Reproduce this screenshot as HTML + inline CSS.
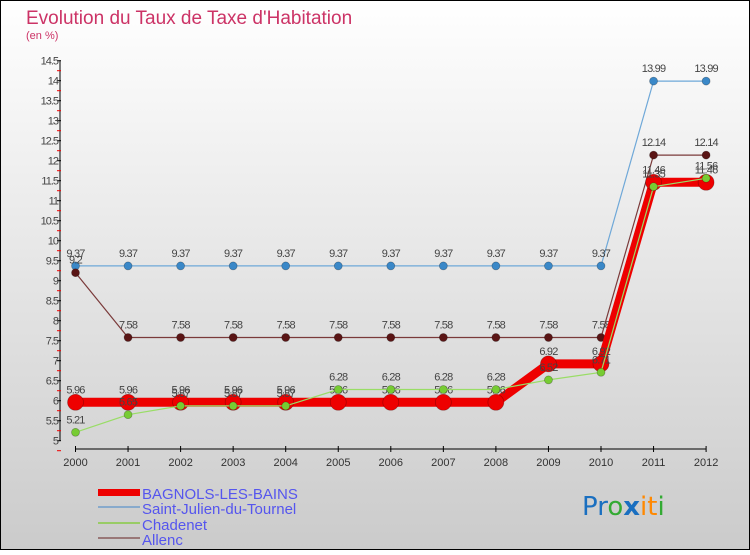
<!DOCTYPE html>
<html><head><meta charset="utf-8"><style>
html,body{margin:0;padding:0}
body{width:750px;height:550px;overflow:hidden;font-family:"Liberation Sans",sans-serif}
</style></head><body>
<svg id="c" width="750" height="550" xmlns="http://www.w3.org/2000/svg">
<defs><linearGradient id="bg" x1="0" y1="0" x2="0" y2="1"><stop offset="0" stop-color="#ffffff"/><stop offset="1" stop-color="#cbcbcb"/></linearGradient></defs>
<rect x="0.5" y="0.5" width="749" height="549" fill="url(#bg)" stroke="#000" stroke-width="1"/>
<text x="26" y="24" font-size="19" fill="#cc3366">Evolution du Taux de Taxe d'Habitation</text>
<text x="26" y="39" font-size="11" fill="#cc3366">(en %)</text>
<g id="axes"></g><g id="series"></g>
<g>
<rect x="98" y="489" width="42" height="7" fill="#ee0000"/>
<line x1="98" y1="507" x2="140" y2="507" stroke="#88aacc" stroke-width="2"/>
<line x1="98" y1="523" x2="140" y2="523" stroke="#99cc66" stroke-width="2"/>
<line x1="98" y1="538" x2="140" y2="538" stroke="#997777" stroke-width="2"/>
<g font-size="15" fill="#5555ee">
<text x="142" y="499">BAGNOLS-LES-BAINS</text>
<text x="142" y="514">Saint-Julien-du-Tournel</text>
<text x="142" y="530">Chadenet</text>
<text x="142" y="545">Allenc</text>
</g></g>
<text x="582" y="515" font-size="26" font-family="DejaVu Sans,sans-serif"><tspan fill="#1a6fc0">Pr</tspan><tspan fill="#33aa33">o</tspan><tspan fill="#1a6fc0" font-weight="bold">x</tspan><tspan fill="#ff8800">it</tspan><tspan fill="#33aa33">i</tspan></text>
</svg>
<script>
const years=[2000,2001,2002,2003,2004,2005,2006,2007,2008,2009,2010,2011,2012];
const bagnols=[5.96,5.96,5.96,5.96,5.96,5.96,5.96,5.96,5.96,6.92,6.92,11.46,11.46];
const stjulien=[9.37,9.37,9.37,9.37,9.37,9.37,9.37,9.37,9.37,9.37,9.37,13.99,13.99];
const chadenet=[5.21,5.65,5.87,5.87,5.87,6.28,6.28,6.28,6.28,6.52,6.71,11.35,11.56];
const allenc=[9.2,7.58,7.58,7.58,7.58,7.58,7.58,7.58,7.58,7.58,7.58,12.14,12.14];
const yTicks=[5,5.5,6,6.5,7,7.5,8,8.5,9,9.5,10,10.5,11,11.5,12,12.5,13,13.5,14,14.5];
const NS="http://www.w3.org/2000/svg";
const x=i=>75.5+i*52.55;
const y=v=>440.7-(v-5)*40;
function mk(t,a,p){const e=document.createElementNS(NS,t);for(const k in a)e.setAttribute(k,a[k]);p.appendChild(e);return e;}
const ax=document.getElementById('axes');
const yl=mk('line',{x1:60,y1:y(14.5),x2:60,y2:y(5),stroke:'#000'},ax);


yTicks.forEach(v=>{
  mk('line',{x1:57,x2:61,y1:y(v),y2:y(v),stroke:'#000'},ax);
  mk('line',{x1:57,x2:61,y1:y(v)+10,y2:y(v)+10,stroke:'#e00'},ax);
  const t=mk('text',{x:58,y:y(v)+4,'text-anchor':'end','font-size':11,fill:'#444','letter-spacing':'-1'},ax);
  t.textContent=v;
  
  
});
const xl=mk('line',{x1:x(0),y1:449,x2:x(12),y2:449,stroke:'#000'},ax);


years.forEach((yr,i)=>{
  mk('line',{x1:x(i),x2:x(i),y1:446,y2:452,stroke:'#000'},ax);
  const t=mk('text',{x:x(i),y:466,'text-anchor':'middle','font-size':11,fill:'#333'},ax);
  t.textContent=yr;
  
  
});
const sg=document.getElementById('series');
function series(name,vals,col,w,r,dot){
  const g=mk('g',{},sg);
  
  
  const pl=mk('polyline',{points:vals.map((v,i)=>x(i)+','+y(v)).join(' '),fill:'none',stroke:col,'stroke-width':w},g);
  
  
  vals.forEach((v,i)=>{
    const c=mk('circle',{cx:x(i),cy:y(v),r:r,fill:dot,stroke:'rgba(0,0,0,0.3)','stroke-width':0.7},g);
    
    
    const t=mk('text',{x:x(i),y:y(v)-9,'text-anchor':'middle','font-size':11,fill:'#444','letter-spacing':'-0.8'},g);
    t.textContent=v;
    
    
  });
}
series('saint-julien',stjulien,'#6fa8d8',1.2,4,'#3a88c8');
series('allenc',allenc,'#7a3a3a',1.2,4,'#5a1515');
series('bagnols',bagnols,'#ee0000',9,8,'#ee0000');
series('chadenet',chadenet,'#99dd66',1.2,4,'#77cc33');
</script>
</body></html>
